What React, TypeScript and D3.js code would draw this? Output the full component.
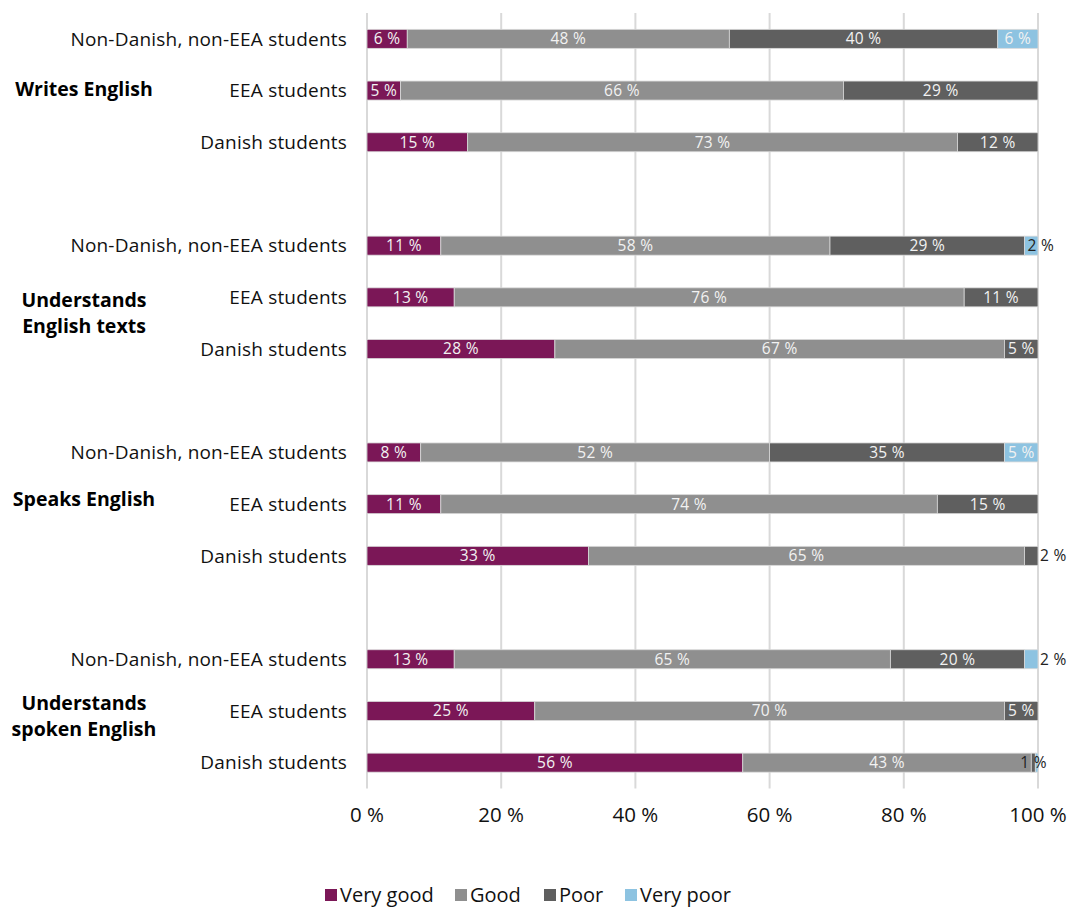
import React from "react";
import * as d3 from "d3";

const groups = ["Writes English", "Understands English texts", "Speaks English", "Understands spoken English"];
const groupLines = [["Writes English"], ["Understands", "English texts"], ["Speaks English"], ["Understands", "spoken English"]];
const studentTypes = ["Non-Danish, non-EEA students", "EEA students", "Danish students"];
const seriesNames = ["Very good", "Good", "Poor", "Very poor"];
const colors = ["#7b1757", "#8f8f8f", "#5f5f5f", "#8dc3e1"];

// rows in display order (top to bottom), per group: non-EEA, EEA, Danish
const veryGood = [6, 5, 15, 11, 13, 28, 8, 11, 33, 13, 25, 56];
const good = [48, 66, 73, 58, 76, 67, 52, 74, 65, 65, 70, 43];
const poor = [40, 29, 12, 29, 11, 5, 35, 15, 2, 20, 5, 0.6];
const veryPoor = [6, 0, 0, 2, 0, 0, 5, 0, 0, 2, 0, 0.4];
const xTicks = [0, 20, 40, 60, 80, 100];

// placement of labels for segments too small to hold them
const smallLabelMode: Record<string, string> = { "3-3": "inside", "8-2": "outside", "9-3": "outside", "11-2": "center" };
const groupLabelShift = [-1, 16, -5, 5];

const W = 1070, H = 907;
const FONT = "'Open Sans', 'Noto Sans', sans-serif";

export default function App() {
  const x = d3.scaleLinear().domain([0, 100]).range([367, 1038]);
  const slots: string[] = [];
  groups.forEach((g, gi) => {
    studentTypes.forEach((s, si) => slots.push(`${gi}-${si}`));
    if (gi < groups.length - 1) slots.push(`gap-${gi}`);
  });
  const y = d3.scaleBand<string>().domain(slots).range([13, 788.5]).padding(0);
  const barH = 19;
  const series = [veryGood, good, poor, veryPoor];
  const rows = veryGood.map((_, i) => {
    const gi = Math.floor(i / 3), si = i % 3;
    const key = `${gi}-${si}`;
    let acc = 0;
    const segs = series.map((arr, k) => {
      const v = arr[i];
      const s = { k, v, x0: acc, x1: acc + v };
      acc += v;
      return s;
    });
    return { i, gi, si, key, label: studentTypes[si], segs };
  });
  const cy = (key: string) => (y(key) as number) + y.bandwidth() / 2;

  return (
    <svg width={W} height={H} style={{ display: "block", position: "absolute", left: 0, top: 0 }} fontFamily={FONT}>
      <rect width={W} height={H} fill="#fff" />
      {xTicks.map((t) => (
        <line key={t} x1={x(t)} x2={x(t)} y1={13} y2={788.5} stroke="#d9d9d9" strokeWidth={2} />
      ))}
      {rows.map((r) => (
        <g key={r.key}>
          {r.segs.map((s) =>
            s.v > 0 ? (
              <rect key={s.k} x={x(s.x0)} y={cy(r.key) - barH / 2} width={x(s.x1) - x(s.x0)} height={barH}
                fill={colors[s.k]} stroke="#d9d9d9" strokeWidth={0.8} />
            ) : null
          )}
          {r.segs.map((s) => {
            const rv = Math.round(s.v);
            if (rv <= 0) return null;
            const txt = `${rv} %`;
            const mode = smallLabelMode[`${r.i}-${s.k}`];
            if (mode) {
              let tx = x(s.x0) + 3;
              if (mode === "outside") tx = x(100) + 2;
              if (mode === "center") tx = x(s.x0) - 11;
              return (
                <text key={"l" + s.k} x={tx} y={cy(r.key)} dy="0.35em" fontSize={15.5} letterSpacing={0.3} fill="#222">{txt}</text>
              );
            }
            return (
              <text key={"l" + s.k} x={(x(s.x0) + x(s.x1)) / 2} y={cy(r.key)} dy="0.35em" textAnchor="middle"
                fontSize={15.5} letterSpacing={0.3} fill="#f2f2f2">{txt}</text>
            );
          })}
          <text x={347} y={cy(r.key)} dy="0.35em" textAnchor="end" fontSize={19} letterSpacing={0.2} fill="#111">{r.label}</text>
        </g>
      ))}
      {groupLines.map((lines, gi) => {
        const c = cy(`${gi}-1`) + groupLabelShift[gi];
        return (
          <text key={gi} x={84} y={c - (lines.length - 1) * 13} textAnchor="middle" fontSize={19.5} fontWeight="bold" fill="#000">
            {lines.map((l, li) => (
              <tspan key={li} x={84} dy={li === 0 ? "0.35em" : 26}>{l}</tspan>
            ))}
          </text>
        );
      })}
      {xTicks.map((t) => (
        <text key={"t" + t} x={x(t)} y={815} dy="0.35em" textAnchor="middle" fontSize={20.5} fill="#111">{`${t} %`}</text>
      ))}
      <g transform="translate(325,895)">
        {seriesNames.map((n, k) => {
          const offs = [0, 130, 219, 300];
          return (
            <g key={n} transform={`translate(${offs[k]},0)`}>
              <rect x={0} y={-6} width={12} height={12} fill={colors[k]} />
              <text x={15} y={0} dy="0.35em" fontSize={20} fill="#111">{n}</text>
            </g>
          );
        })}
      </g>
    </svg>
  );
}
